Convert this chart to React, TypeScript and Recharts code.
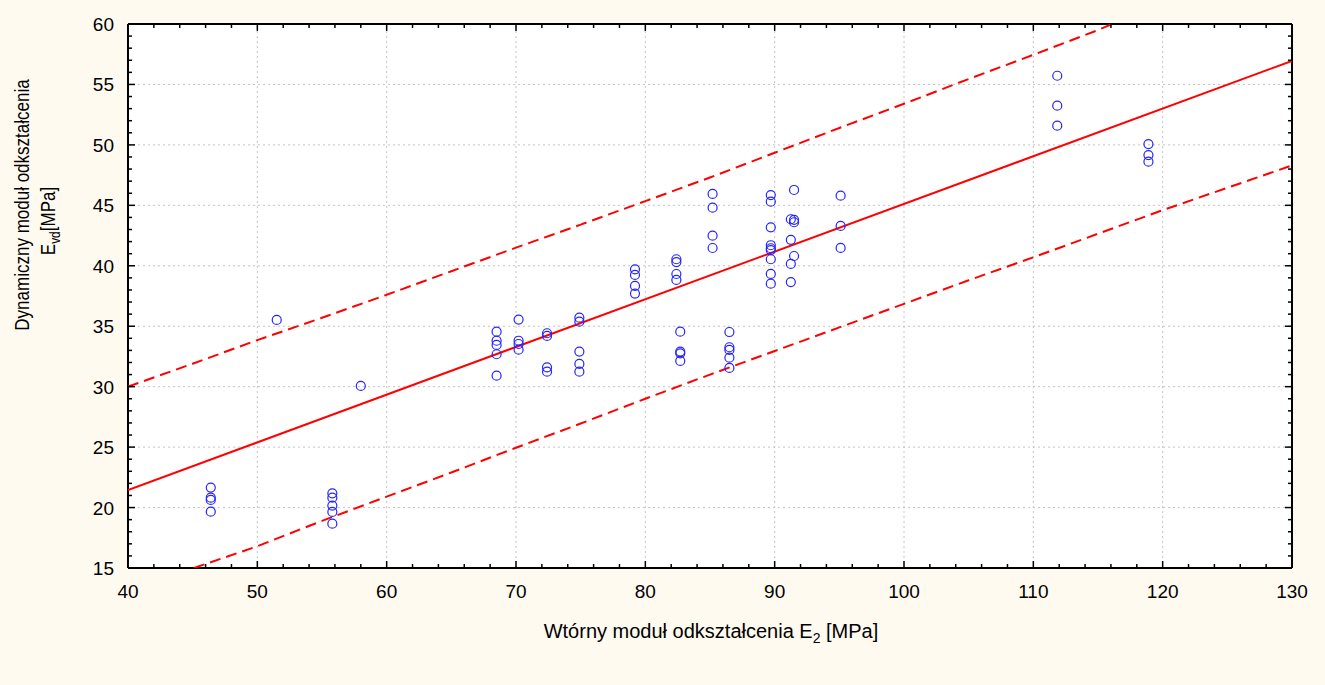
import React from "react";
import {
  ScatterChart,
  Scatter,
  XAxis,
  YAxis,
  ReferenceLine,
  ReferenceArea
} from "recharts";

// measured columns of E2 and the Evd readings at each of them
const colX = [46.4, 51.5, 55.8, 58.0, 68.5, 70.2, 72.4, 74.9, 79.2, 82.4, 82.7, 85.2, 86.5, 89.7, 91.25, 91.5, 95.1, 111.85, 118.9];
const colY = [
  [21.65, 20.82, 20.63, 19.66],
  [35.52],
  [21.18, 20.82, 20.16, 19.64, 18.67],
  [30.06],
  [34.55, 33.8, 33.45, 32.68, 30.91],
  [35.55, 33.8, 33.53, 33.06],
  [34.42, 34.2, 31.6, 31.24],
  [35.71, 35.38, 32.9, 31.88, 31.24],
  [39.71, 39.24, 38.33, 37.7],
  [40.54, 40.31, 39.32, 38.83],
  [34.55, 32.9, 32.76, 32.13],
  [45.94, 44.81, 42.49, 41.47],
  [34.52, 33.26, 33.04, 32.4, 31.55],
  [45.85, 45.3, 43.18, 41.7, 41.45, 41.3, 40.54, 39.33, 38.52],
  [43.85, 42.15, 40.15, 38.65],
  [46.27, 43.8, 43.6, 40.81],
  [45.8, 43.3, 41.48],
  [55.72, 53.24, 51.59],
  [50.07, 49.16, 48.61]
];

// fitted line
const fitX = [40, 130];
const fitY = [21.45, 56.95];

// prediction band, upper and lower
const upperX = [40, 45, 50, 55, 60, 65, 70, 75, 80, 85, 90, 95, 100, 105, 110, 115, 116.1];
const upperY = [30.0, 31.9, 33.85, 35.7, 37.6, 39.55, 41.5, 43.4, 45.35, 47.3, 49.35, 51.4, 53.4, 55.45, 57.45, 59.5, 60.0];
const lowerX = [45.1, 50, 55, 60, 65, 70, 75, 80, 85, 90, 95, 100, 105, 110, 115, 120, 125, 130];
const lowerY = [15.0, 16.8, 18.9, 20.9, 22.9, 24.95, 26.95, 29.0, 31.0, 32.95, 34.9, 36.85, 38.8, 40.7, 42.65, 44.6, 46.45, 48.3];

const xMajor = [40, 50, 60, 70, 80, 90, 100, 110, 120, 130];
const yMajor = [15, 20, 25, 30, 35, 40, 45, 50, 55, 60];

const xTicks: number[] = [];
for (let v = 40; v <= 130; v += 2) xTicks.push(v);
const yTicks: number[] = [];
for (let v = 15; v <= 60; v += 1) yTicks.push(v);

const points = colX.flatMap((x, i) => colY[i].map((y) => ({ x, y })));
const toXY = (xs: number[], ys: number[]) => xs.map((x, i) => ({ x, y: ys[i] }));
const fitData = toXY(fitX, fitY);
const upperData = toXY(upperX, upperY);
const lowerData = toXY(lowerX, lowerY);

const FONT = "'Liberation Sans', Arial, sans-serif";
const RED = "#ff0000";

function BottomTick(props: any) {
  const { x, y, payload } = props;
  const major = xMajor.includes(payload.value);
  return (
    <g>
      <line x1={x} x2={x} y1={y} y2={y - (major ? 7 : 4)} stroke="#000" strokeWidth={1.5} />
      {major && (
        <text x={x} y={y + 30} textAnchor="middle" fontSize={19} fontFamily={FONT} fill="#000">
          {payload.value}
        </text>
      )}
    </g>
  );
}

function TopTick(props: any) {
  const { x, y, payload } = props;
  const major = xMajor.includes(payload.value);
  return <line x1={x} x2={x} y1={y} y2={y + (major ? 7 : 4)} stroke="#000" strokeWidth={1.5} />;
}

function LeftTick(props: any) {
  const { x, y, payload } = props;
  const major = yMajor.includes(payload.value);
  return (
    <g>
      <line x1={x} x2={x + (major ? 7 : 4)} y1={y} y2={y} stroke="#000" strokeWidth={1.5} />
      {major && (
        <text x={x - 14} y={y + 7} textAnchor="end" fontSize={19} fontFamily={FONT} fill="#000">
          {payload.value}
        </text>
      )}
    </g>
  );
}

function RightTick(props: any) {
  const { x, y, payload } = props;
  const major = yMajor.includes(payload.value);
  return <line x1={x} x2={x - (major ? 7 : 4)} y1={y} y2={y} stroke="#000" strokeWidth={1.5} />;
}

const Ring = (props: any) => (
  <circle cx={props.cx} cy={props.cy} r={4.5} fill="none" stroke="#2424ff" strokeWidth={1.2} />
);
const NoDot = () => <g />;

const axisLine = { stroke: "#000", strokeWidth: 2 };
const gridStyle = { stroke: "#c4c4c4", strokeDasharray: "2 3", strokeWidth: 1 };

export default function App() {
  return (
    <div
      style={{
        position: "absolute",
        left: 0,
        top: 0,
        width: 1325,
        height: 685,
        background: "#fffaf0",
        fontFamily: FONT
      }}
    >
      <ScatterChart width={1325} height={685} margin={{ top: 14, right: 23, bottom: 87, left: 68 }}>
        <XAxis
          type="number"
          dataKey="x"
          domain={[40, 130]}
          ticks={xTicks}
          interval={0}
          height={30}
          tickSize={0}
          tickMargin={0}
          tickLine={false}
          axisLine={axisLine}
          tick={<BottomTick />}
          allowDataOverflow
        />
        <XAxis
          xAxisId="top"
          orientation="top"
          type="number"
          dataKey="x"
          domain={[40, 130]}
          ticks={xTicks}
          interval={0}
          height={10}
          tickSize={0}
          tickMargin={0}
          tickLine={false}
          axisLine={axisLine}
          tick={<TopTick />}
          allowDataOverflow
        />
        <YAxis
          type="number"
          dataKey="y"
          domain={[15, 60]}
          ticks={yTicks}
          interval={0}
          width={60}
          tickSize={0}
          tickMargin={0}
          tickLine={false}
          axisLine={axisLine}
          tick={<LeftTick />}
          allowDataOverflow
        />
        <YAxis
          yAxisId="right"
          orientation="right"
          type="number"
          dataKey="y"
          domain={[15, 60]}
          ticks={yTicks}
          interval={0}
          width={10}
          tickSize={0}
          tickMargin={0}
          tickLine={false}
          axisLine={axisLine}
          tick={<RightTick />}
          allowDataOverflow
        />
        <ReferenceArea x1={40} x2={130} y1={15} y2={60} fill="#ffffff" fillOpacity={1} stroke="none" />
        {xMajor.slice(1, -1).map((v) => (
          <ReferenceLine key={"gx" + v} x={v} {...gridStyle} />
        ))}
        {yMajor.slice(1, -1).map((v) => (
          <ReferenceLine key={"gy" + v} y={v} {...gridStyle} />
        ))}
        <Scatter data={[]} xAxisId="top" yAxisId="right" isAnimationActive={false} />
        <Scatter
          data={upperData}
          line={{ stroke: RED, strokeWidth: 2, strokeDasharray: "11 6" }}
          shape={NoDot}
          isAnimationActive={false}
        />
        <Scatter
          data={lowerData}
          line={{ stroke: RED, strokeWidth: 2, strokeDasharray: "11 6" }}
          shape={NoDot}
          isAnimationActive={false}
        />
        <Scatter
          data={fitData}
          line={{ stroke: RED, strokeWidth: 2 }}
          shape={NoDot}
          isAnimationActive={false}
        />
        <Scatter data={points} shape={Ring} isAnimationActive={false} />
      </ScatterChart>

      <div
        style={{
          position: "absolute",
          left: 411,
          top: 620,
          width: 600,
          textAlign: "center",
          fontSize: 20,
          color: "#000"
        }}
      >
        Wtórny moduł odkształcenia E<sub style={{ fontSize: 14 }}>2</sub> [MPa]
      </div>
      <div
        style={{
          position: "absolute",
          left: 22 - 160,
          top: 205 - 12,
          width: 320,
          height: 24,
          lineHeight: "24px",
          textAlign: "center",
          fontSize: 20,
          color: "#000",
          transform: "rotate(-90deg) scaleX(0.85)"
        }}
      >
        Dynamiczny moduł odkształcenia
      </div>
      <div
        style={{
          position: "absolute",
          left: 48 - 80,
          top: 221 - 12,
          width: 160,
          height: 24,
          lineHeight: "24px",
          textAlign: "center",
          fontSize: 20,
          color: "#000",
          transform: "rotate(-90deg) scaleX(0.85)"
        }}
      >
        E<sub style={{ fontSize: 14 }}>vd</sub>[MPa]
      </div>
    </div>
  );
}
